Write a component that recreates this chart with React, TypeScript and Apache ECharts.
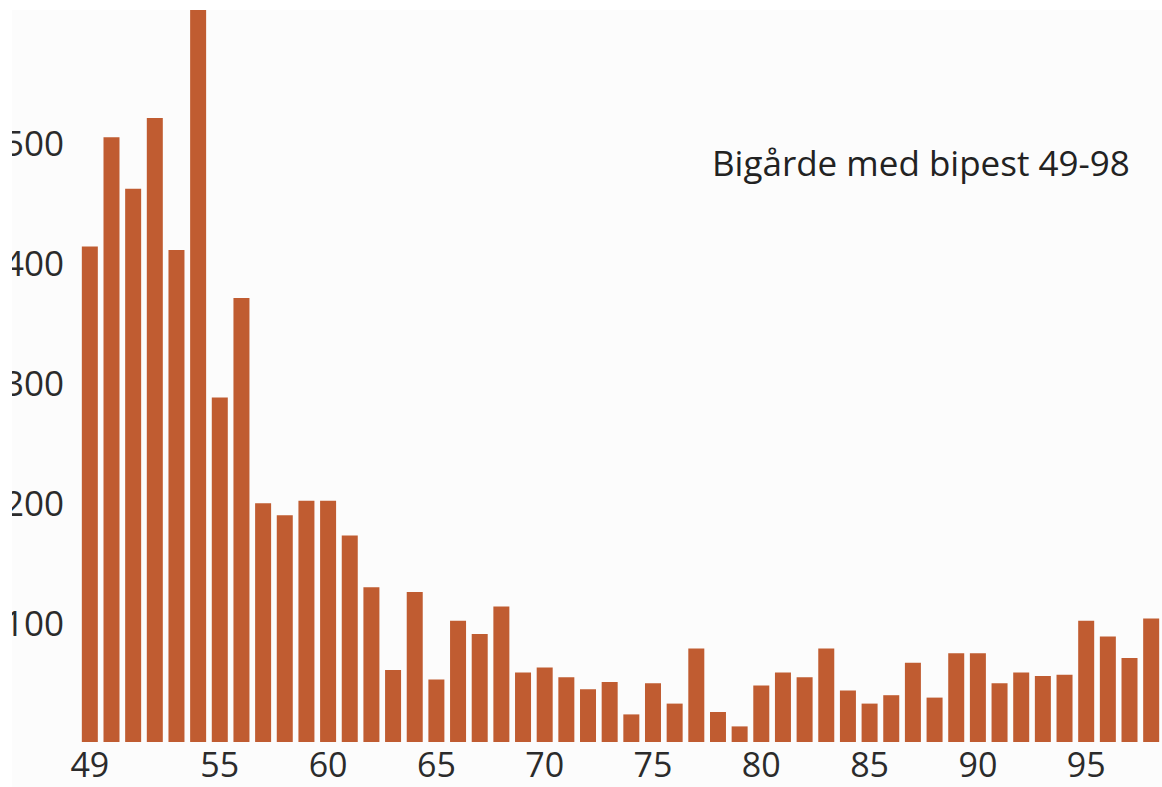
import React, { useEffect, useRef } from "react";
import * as echarts from "echarts";

const years: string[] = [
  "49", "50", "51", "52", "53", "54", "55", "56", "57", "58",
  "59", "60", "61", "62", "63", "64", "65", "66", "67", "68",
  "69", "70", "71", "72", "73", "74", "75", "76", "77", "78",
  "79", "80", "81", "82", "83", "84", "85", "86", "87", "88",
  "89", "90", "91", "92", "93", "94", "95", "96", "97", "98",
];

const apiaries: number[] = [
  413, 504, 461, 520, 410, 630, 287, 370, 199, 189,
  201, 201, 172, 129, 60, 125, 52, 101, 90, 113,
  58, 62, 54, 44, 50, 23, 49, 32, 78, 25,
  13, 47, 58, 54, 78, 43, 32, 39, 66, 37,
  74, 74, 49, 58, 55, 56, 101, 88, 70, 103,
];

const shownYearLabels: string[] = ["49", "55", "60", "65", "70", "75", "80", "85", "90", "95"];
const shownValueLabels: number[] = [100, 200, 300, 400, 500];

const titleText = "Bigårde med bipest 49-98";

export default function App() {
  const ref = useRef<HTMLDivElement>(null);

  useEffect(() => {
    if (!ref.current) return;
    const chart = echarts.init(ref.current, undefined, { renderer: "svg" });
    const font = "'Open Sans', 'Noto Sans', sans-serif";
    chart.setOption({
      animation: false,
      backgroundColor: "#ffffff",
      grid: { left: 79, right: 0, top: 10, bottom: 45, containLabel: false },
      xAxis: {
        type: "category",
        data: years,
        axisLine: { show: false },
        axisTick: { show: false },
        splitLine: { show: false },
        axisLabel: {
          interval: (_i: number, v: string) => shownYearLabels.includes(v),
          color: "#2b2b2b",
          fontFamily: font,
          fontSize: 34,
          lineHeight: 28,
          margin: 8,
        },
      },
      yAxis: {
        type: "value",
        min: 0,
        max: 610,
        interval: 100,
        axisLine: { show: false },
        axisTick: { show: false },
        splitLine: { show: false },
        axisLabel: {
          formatter: (v: number) => (shownValueLabels.includes(v) ? String(v) : ""),
          color: "#2b2b2b",
          fontFamily: font,
          fontSize: 35,
          margin: 15,
        },
      },
      graphic: [
        {
          type: "rect",
          z: -100,
          silent: true,
          shape: { x: 12, y: 10, width: 1162, height: 800 },
          style: { fill: "#fcfcfc" },
        },
        {
          type: "rect",
          z: 100,
          silent: true,
          shape: { x: 0, y: 0, width: 12, height: 787 },
          style: { fill: "#ffffff" },
        },
        {
          type: "text",
          z: 100,
          left: 712,
          top: 145,
          style: {
            text: titleText,
            fill: "#222222",
            font: `35px ${font}`,
          },
        },
      ],
      series: [
        {
          type: "bar",
          data: apiaries,
          barWidth: 16,
          clip: true,
          itemStyle: { color: "#c05c31" },
        },
      ],
    });
    return () => chart.dispose();
  }, []);

  return (
    <div
      ref={ref}
      style={{ position: "fixed", left: 0, top: 0, width: 1162, height: 787 }}
    />
  );
}
